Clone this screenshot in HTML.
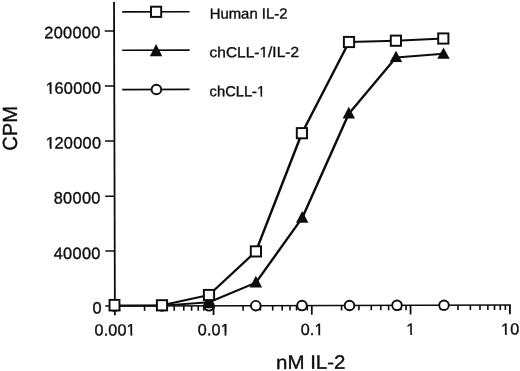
<!DOCTYPE html><html><head><meta charset="utf-8"><title>chart</title><style>html,body{margin:0;padding:0;background:#fff}svg{display:block}text{font-family:"Liberation Sans",sans-serif;fill:#0c0c0c;stroke:#0c0c0c;stroke-width:0.35px}</style></head><body>
<svg width="520" height="371" viewBox="0 0 520 371">
<rect width="520" height="371" fill="#fff"/>
<g stroke="#0c0c0c" fill="none" stroke-linecap="butt">
<line x1="114.03" y1="2" x2="114.90" y2="315.25" stroke-width="1.8"/>
<line x1="105.25" y1="306.07" x2="510.8" y2="304.96" stroke-width="1.5"/>
<line x1="104.71" y1="31.02" x2="114.11" y2="31.0" stroke-width="1.5"/>
<line x1="104.86" y1="86.11999999999999" x2="114.26" y2="86.1" stroke-width="1.5"/>
<line x1="105.01" y1="141.02" x2="114.41" y2="141.0" stroke-width="1.5"/>
<line x1="105.17" y1="196.22" x2="114.57" y2="196.2" stroke-width="1.5"/>
<line x1="105.32" y1="251.12" x2="114.72" y2="251.1" stroke-width="1.5"/>
<line x1="144.55" y1="305.88" x2="144.55" y2="310.88" stroke-width="1.6"/>
<line x1="161.92" y1="305.83" x2="161.92" y2="310.83" stroke-width="1.6"/>
<line x1="174.24" y1="305.80" x2="174.24" y2="310.80" stroke-width="1.6"/>
<line x1="183.80" y1="305.78" x2="183.80" y2="310.78" stroke-width="1.6"/>
<line x1="191.61" y1="305.76" x2="191.61" y2="310.76" stroke-width="1.6"/>
<line x1="198.22" y1="305.74" x2="198.22" y2="310.74" stroke-width="1.6"/>
<line x1="203.94" y1="305.73" x2="203.94" y2="310.73" stroke-width="1.6"/>
<line x1="208.99" y1="305.72" x2="208.99" y2="310.72" stroke-width="1.6"/>
<line x1="213.50" y1="305.70" x2="213.53" y2="315.00" stroke-width="1.8"/>
<line x1="243.09" y1="305.63" x2="243.09" y2="310.63" stroke-width="1.6"/>
<line x1="260.40" y1="305.59" x2="260.40" y2="310.59" stroke-width="1.6"/>
<line x1="272.68" y1="305.56" x2="272.68" y2="310.56" stroke-width="1.6"/>
<line x1="282.21" y1="305.53" x2="282.21" y2="310.53" stroke-width="1.6"/>
<line x1="289.99" y1="305.51" x2="289.99" y2="310.51" stroke-width="1.6"/>
<line x1="296.57" y1="305.50" x2="296.57" y2="310.50" stroke-width="1.6"/>
<line x1="302.27" y1="305.48" x2="302.27" y2="310.48" stroke-width="1.6"/>
<line x1="307.30" y1="305.47" x2="307.30" y2="310.47" stroke-width="1.6"/>
<line x1="311.80" y1="305.46" x2="311.83" y2="314.76" stroke-width="1.8"/>
<line x1="341.53" y1="305.38" x2="341.53" y2="310.38" stroke-width="1.6"/>
<line x1="358.92" y1="305.34" x2="358.92" y2="310.34" stroke-width="1.6"/>
<line x1="371.25" y1="305.31" x2="371.25" y2="310.31" stroke-width="1.6"/>
<line x1="380.82" y1="305.29" x2="380.82" y2="310.29" stroke-width="1.6"/>
<line x1="388.64" y1="305.27" x2="388.64" y2="310.27" stroke-width="1.6"/>
<line x1="395.25" y1="305.25" x2="395.25" y2="310.25" stroke-width="1.6"/>
<line x1="400.98" y1="305.24" x2="400.98" y2="310.24" stroke-width="1.6"/>
<line x1="406.03" y1="305.22" x2="406.03" y2="310.22" stroke-width="1.6"/>
<line x1="410.55" y1="305.21" x2="410.58" y2="314.51" stroke-width="1.8"/>
<line x1="440.46" y1="305.14" x2="440.46" y2="310.14" stroke-width="1.6"/>
<line x1="457.95" y1="305.09" x2="457.95" y2="310.09" stroke-width="1.6"/>
<line x1="470.36" y1="305.06" x2="470.36" y2="310.06" stroke-width="1.6"/>
<line x1="479.99" y1="305.04" x2="479.99" y2="310.04" stroke-width="1.6"/>
<line x1="487.86" y1="305.02" x2="487.86" y2="310.02" stroke-width="1.6"/>
<line x1="494.51" y1="305.00" x2="494.51" y2="310.00" stroke-width="1.6"/>
<line x1="500.27" y1="304.99" x2="500.27" y2="309.99" stroke-width="1.6"/>
<line x1="505.35" y1="304.97" x2="505.35" y2="309.97" stroke-width="1.6"/>
<line x1="509.90" y1="304.96" x2="509.93" y2="314.26" stroke-width="1.8"/>
</g>
<g stroke="#0c0c0c" stroke-width="1.6">
<line x1="122.2" y1="11.9" x2="189.6" y2="11.700000000000001"/>
<line x1="122.2" y1="50.300000000000004" x2="189.6" y2="50.1"/>
<line x1="122.2" y1="89.6" x2="189.6" y2="89.4"/>
</g>
<circle cx="114.7" cy="306.07" r="4.8" fill="#fff" stroke="#0c0c0c" stroke-width="1.9"/>
<circle cx="162" cy="305.95" r="4.8" fill="#fff" stroke="#0c0c0c" stroke-width="1.9"/>
<circle cx="209" cy="305.83" r="4.8" fill="#fff" stroke="#0c0c0c" stroke-width="1.9"/>
<circle cx="255.8" cy="305.72" r="4.8" fill="#fff" stroke="#0c0c0c" stroke-width="1.9"/>
<circle cx="302" cy="305.6" r="4.8" fill="#fff" stroke="#0c0c0c" stroke-width="1.9"/>
<circle cx="349.5" cy="305.48" r="4.8" fill="#fff" stroke="#0c0c0c" stroke-width="1.9"/>
<circle cx="397" cy="305.37" r="4.8" fill="#fff" stroke="#0c0c0c" stroke-width="1.9"/>
<circle cx="444" cy="305.25" r="4.8" fill="#fff" stroke="#0c0c0c" stroke-width="1.9"/>
<g stroke="#0c0c0c" stroke-linecap="round" fill="none">
<line x1="114.7" y1="305.6" x2="162" y2="305.6" stroke-width="1.85"/>
<line x1="162" y1="305.6" x2="209.0" y2="302.2" stroke-width="1.90"/>
<line x1="209.0" y1="302.2" x2="255.9" y2="282.6" stroke-width="2.10"/>
<line x1="255.9" y1="282.6" x2="302.2" y2="217.9" stroke-width="2.38"/>
<line x1="302.2" y1="217.9" x2="348.8" y2="113.8" stroke-width="2.44"/>
<line x1="348.8" y1="113.8" x2="396.0" y2="57.5" stroke-width="2.35"/>
<line x1="396.0" y1="57.5" x2="443.5" y2="53.7" stroke-width="1.90"/>
</g>
<polygon points="114.7,299.0 120.9,310.4 108.5,310.4" fill="#0c0c0c"/>
<polygon points="162.0,299.0 168.2,310.4 155.8,310.4" fill="#0c0c0c"/>
<polygon points="209.0,296.6 215.2,308.2 202.8,308.2" fill="#0c0c0c"/>
<polygon points="255.9,275.8 262.1,287.4 249.7,287.4" fill="#0c0c0c"/>
<polygon points="302.2,210.9 308.4,222.7 296.0,222.7" fill="#0c0c0c"/>
<polygon points="348.8,106.8 355.0,118.6 342.6,118.6" fill="#0c0c0c"/>
<polygon points="396.0,50.8 402.2,62.1 389.8,62.1" fill="#0c0c0c"/>
<polygon points="443.5,47.5 449.7,58.7 437.3,58.7" fill="#0c0c0c"/>
<g stroke="#0c0c0c" stroke-linecap="round" fill="none">
<line x1="114.6" y1="305.6" x2="162" y2="305.3" stroke-width="1.85"/>
<line x1="162" y1="305.3" x2="209" y2="295.0" stroke-width="1.99"/>
<line x1="209" y1="295.0" x2="255.9" y2="251.4" stroke-width="2.29"/>
<line x1="255.9" y1="251.4" x2="301.9" y2="133.2" stroke-width="2.46"/>
<line x1="301.9" y1="133.2" x2="349.0" y2="42.0" stroke-width="2.43"/>
<line x1="349.0" y1="42.0" x2="395.9" y2="40.7" stroke-width="1.87"/>
<line x1="395.9" y1="40.7" x2="443.3" y2="38.5" stroke-width="1.88"/>
</g>
<rect x="156.90" y="300.20" width="10.2" height="10.2" fill="#fff" stroke="#0c0c0c" stroke-width="1.95"/>
<rect x="203.90" y="289.90" width="10.2" height="10.2" fill="#fff" stroke="#0c0c0c" stroke-width="1.95"/>
<rect x="250.80" y="246.30" width="10.2" height="10.2" fill="#fff" stroke="#0c0c0c" stroke-width="1.95"/>
<rect x="296.80" y="128.10" width="10.2" height="10.2" fill="#fff" stroke="#0c0c0c" stroke-width="1.95"/>
<rect x="343.90" y="36.90" width="10.2" height="10.2" fill="#fff" stroke="#0c0c0c" stroke-width="1.95"/>
<rect x="390.80" y="35.60" width="10.2" height="10.2" fill="#fff" stroke="#0c0c0c" stroke-width="1.95"/>
<rect x="438.20" y="33.40" width="10.2" height="10.2" fill="#fff" stroke="#0c0c0c" stroke-width="1.95"/>
<rect x="109.55" y="299.9" width="9.9" height="10.6" fill="#fff" stroke="#0c0c0c" stroke-width="1.9"/>
<rect x="151.00" y="6.70" width="10.2" height="10.2" fill="#fff" stroke="#0c0c0c" stroke-width="1.95"/>
<polygon points="156.1,43.9 162.3,56.2 149.9,56.2" fill="#0c0c0c"/>
<circle cx="156.4" cy="89.5" r="4.8" fill="#fff" stroke="#0c0c0c" stroke-width="1.9"/>
<g style="stroke-width:.45px">
<text transform="rotate(-0.15 209.7 18.65)" x="209.7" y="18.65" font-size="14.5" textLength="77.8" lengthAdjust="spacingAndGlyphs">Human IL-2</text>
<text transform="rotate(-0.15 209.6 57.25)" x="209.6" y="57.25" font-size="14.5" textLength="89.4" lengthAdjust="spacingAndGlyphs">chCLL-1/IL-2</text>
<text transform="rotate(-0.15 209.6 96.25)" x="209.6" y="96.25" font-size="14.5" textLength="55.6" lengthAdjust="spacingAndGlyphs">chCLL-1</text>
</g>
<text transform="rotate(-0.15 100.7 38.1)" x="100.7" y="38.1" font-size="16.4" text-anchor="end" letter-spacing="0.28">200000</text>
<text dx="0.7 -0.7" transform="rotate(-0.15 100.7 93.6)" x="100.7" y="93.6" font-size="16.4" text-anchor="end" letter-spacing="0.28">160000</text>
<text dx="0.7 -0.7" transform="rotate(-0.15 100.7 148.4)" x="100.7" y="148.4" font-size="16.4" text-anchor="end" letter-spacing="0.28">120000</text>
<text transform="rotate(-0.15 100.7 203.5)" x="100.7" y="203.5" font-size="16.4" text-anchor="end" letter-spacing="0.28">80000</text>
<text transform="rotate(-0.15 100.7 258.9)" x="100.7" y="258.9" font-size="16.4" text-anchor="end" letter-spacing="0.28">40000</text>
<text transform="rotate(-0.15 102.0 313.5)" x="102.0" y="313.5" font-size="16.4" text-anchor="end" letter-spacing="0.28">0</text>
<text transform="rotate(-0.15 115.1 335.4)" x="115.1" y="335.4" font-size="16.2" text-anchor="middle" letter-spacing="0.1">0.001</text>
<text transform="rotate(-0.15 213.8 335.2)" x="213.8" y="335.2" font-size="16.2" text-anchor="middle" letter-spacing="0.1">0.01</text>
<text transform="rotate(-0.15 312.1 335.0)" x="312.1" y="335.0" font-size="16.2" text-anchor="middle" letter-spacing="0.1">0.1</text>
<text transform="rotate(-0.15 410.9 334.81)" x="410.9" y="334.81" font-size="16.2" text-anchor="middle" letter-spacing="0.1">1</text>
<text transform="rotate(-0.15 510.2 334.61)" x="510.2" y="334.61" font-size="16.2" text-anchor="middle" letter-spacing="0.1">10</text>
<text transform="rotate(-0.15 276 368.9)" x="276" y="368.9" font-size="19.3" textLength="69.5" lengthAdjust="spacingAndGlyphs">nM IL-2</text>
<text transform="translate(17.0,150.8) rotate(-90.15)" font-size="20.4" textLength="44.8" lengthAdjust="spacingAndGlyphs">CPM</text>
<g fill="#fff" stroke="none"><rect transform="rotate(-0.15 209.6 57.25)" x="259.85" y="55.29" width="3.30" height="2.83"/><rect transform="rotate(-0.15 209.6 57.25)" x="264.90" y="55.29" width="2.93" height="2.83"/><rect transform="rotate(-0.15 209.6 96.25)" x="257.35" y="94.29" width="3.16" height="2.83"/><rect transform="rotate(-0.15 209.6 96.25)" x="262.21" y="94.29" width="2.77" height="2.83"/><rect transform="rotate(-0.15 100.7 93.6)" x="46.22" y="91.50" width="3.54" height="2.98"/><rect transform="rotate(-0.15 100.7 93.6)" x="51.65" y="91.50" width="3.24" height="2.98"/><rect transform="rotate(-0.15 100.7 148.4)" x="46.22" y="146.30" width="3.54" height="2.98"/><rect transform="rotate(-0.15 100.7 148.4)" x="51.65" y="146.30" width="3.24" height="2.98"/><rect transform="rotate(-0.15 115.1 335.4)" x="126.96" y="333.31" width="3.46" height="2.96"/><rect transform="rotate(-0.15 115.1 335.4)" x="132.25" y="333.31" width="3.13" height="2.96"/><rect transform="rotate(-0.15 213.8 335.2)" x="221.12" y="333.11" width="3.45" height="2.96"/><rect transform="rotate(-0.15 213.8 335.2)" x="226.41" y="333.11" width="3.12" height="2.96"/><rect transform="rotate(-0.15 312.1 335.0)" x="314.86" y="332.91" width="3.46" height="2.96"/><rect transform="rotate(-0.15 312.1 335.0)" x="320.15" y="332.91" width="3.13" height="2.96"/><rect transform="rotate(-0.15 410.9 334.81)" x="406.82" y="332.72" width="3.45" height="2.96"/><rect transform="rotate(-0.15 410.9 334.81)" x="412.11" y="332.72" width="3.12" height="2.96"/><rect transform="rotate(-0.15 510.2 334.61)" x="501.56" y="332.52" width="3.45" height="2.96"/><rect transform="rotate(-0.15 510.2 334.61)" x="506.85" y="332.52" width="3.12" height="2.96"/></g>
</svg></body></html>
